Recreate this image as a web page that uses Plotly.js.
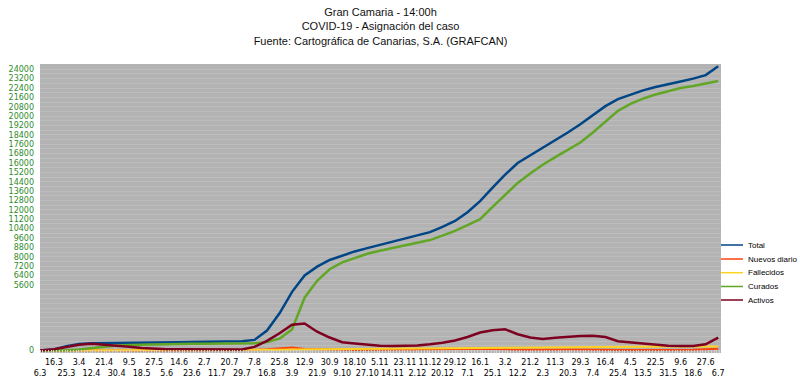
<!DOCTYPE html>
<html>
<head>
<meta charset="utf-8">
<script src="https://cdn.plot.ly/plotly-3.0.1.min.js"></script>
<style>html,body{margin:0;padding:0;background:#fff;}#chart{width:800px;height:387px;}</style>
</head>
<body>
<div id="chart"></div>
<script>
// Dates (one every 9 days, as the tick labels)
const dates = ['2020-03-06','2020-03-16','2020-03-25','2020-04-03','2020-04-12','2020-04-21','2020-04-30','2020-05-09','2020-05-18','2020-05-27','2020-06-05','2020-06-14','2020-06-23','2020-07-02','2020-07-11','2020-07-20','2020-07-29','2020-08-07','2020-08-16','2020-08-25','2020-09-03','2020-09-12','2020-09-21','2020-09-30','2020-10-09','2020-10-18','2020-10-27','2020-11-05','2020-11-14','2020-11-23','2020-12-02','2020-12-11','2020-12-20','2020-12-29','2021-01-07','2021-01-16','2021-01-25','2021-02-03','2021-02-12','2021-02-21','2021-03-02','2021-03-11','2021-03-20','2021-03-29','2021-04-07','2021-04-16','2021-04-25','2021-05-04','2021-05-13','2021-05-22','2021-05-31','2021-06-09','2021-06-18','2021-06-27','2021-07-06'];
const tickLabels = ['6.3','16.3','25.3','3.4','12.4','21.4','30.4','9.5','18.5','27.5','5.6','14.6','23.6','2.7','11.7','20.7','29.7','7.8','16.8','25.8','3.9','12.9','21.9','30.9','9.10','18.10','27.10','5.11','14.11','23.11','2.12','11.12','20.12','29.12','7.1','16.1','25.1','3.2','12.2','21.2','2.3','11.3','20.3','29.3','7.4','16.4','25.4','4.5','13.5','22.5','31.5','9.6','18.6','27.6','6.7'];

const total      = [0,80,350,550,620,640,650,660,670,680,690,700,710,720,740,760,790,900,1700,3170,5000,6400,7150,7720,8100,8450,8730,9000,9280,9540,9820,10100,10550,11050,11800,12750,13900,15000,16000,16650,17300,17900,18600,19300,20100,20850,21450,21850,22200,22480,22750,22960,23200,23500,24250];
const nuevos     = [0,10,30,40,20,10,5,3,2,1,1,1,1,2,3,5,10,40,90,160,250,120,80,60,55,40,45,35,30,35,40,45,60,80,120,150,140,90,50,40,60,70,75,70,80,60,40,40,35,30,35,40,50,90,150];
const fallecidos = [0,0,5,20,35,45,50,52,53,54,54,54,55,55,55,55,56,57,58,62,70,80,95,110,120,130,140,150,160,170,180,190,200,210,220,235,250,265,280,290,298,305,310,315,318,320,322,325,327,328,330,332,333,334,335];
const curados    = [0,0,20,80,200,330,420,470,500,520,540,550,560,570,580,590,600,620,720,1000,1800,4500,5950,6930,7520,7900,8250,8510,8740,8950,9160,9420,9800,10200,10700,11200,12250,13300,14300,15100,15850,16500,17100,17750,18600,19550,20450,21050,21500,21850,22150,22400,22570,22800,23000];
const activos    = [0,100,300,480,560,500,400,320,200,120,100,90,80,80,80,80,80,300,820,1470,2200,2300,1600,1100,700,600,480,400,380,380,420,520,650,850,1150,1530,1720,1800,1380,1100,980,1080,1170,1240,1260,1150,780,680,580,480,400,380,380,520,1100];

const yTicks = [0,5600,6400,7200,8000,8800,9600,10400,11200,12000,12800,13600,14400,15200,16000,16800,17600,18400,19200,20000,20800,21600,22400,23200,24000];

const names  = ['Total','Nuevos diario','Fallecidos','Curados','Activos'];
const series = [total, nuevos, fallecidos, curados, activos];
const colors = ['#004586','#ff420e','#ffd320','#62a626','#7e0021'];
const widths = [2.5, 2, 2, 2.5, 2.5];

const traces = series.map((s, i) => ({
  type: 'scatter', mode: 'lines', x: dates, y: s, name: names[i],
  xaxis: i === 4 ? 'x2' : 'x',
  line: {color: colors[i], width: widths[i]}, showlegend: false, hoverinfo: 'skip'
}));

const topVals = [], topText = [], botVals = [], botText = [];
dates.forEach((d, i) => {
  if (i % 2 === 1) { topVals.push(d); topText.push(tickLabels[i]); }
  else { botVals.push(d); botText.push(tickLabels[i]); }
});

const L = 40, R = 721, T = 64, B = 353;
const W = 800, H = 387;
const px2x = p => (p - L) / (R - L);
const px2y = p => (B - p) / (B - T);

const legendRows = [245, 259, 272.7, 286.5, 300];
const shapes = [], annotations = [];
names.forEach((n, i) => {
  shapes.push({type: 'line', xref: 'paper', yref: 'paper',
    x0: px2x(721), x1: px2x(743), y0: px2y(legendRows[i]), y1: px2y(legendRows[i]),
    line: {color: colors[i], width: 1.5}});
  annotations.push({xref: 'paper', yref: 'paper', x: px2x(745.5), y: px2y(legendRows[i]),
    xanchor: 'left', yanchor: 'middle', showarrow: false, text: n,
    font: {family: 'Liberation Sans, Arial, sans-serif', size: 8, color: '#000'}});
});

const xRange = ['2020-03-06', '2021-07-08'];
const layout = {
  width: W, height: H,
  margin: {l: L, r: W - R, t: T, b: H - B, pad: 0},
  paper_bgcolor: '#ffffff', plot_bgcolor: '#b3b3b3',
  title: {text: 'Gran Camaria - 14:00h<br>COVID-19 - Asignación del caso<br>Fuente: Cartográfica de Canarias, S.A. (GRAFCAN)',
    font: {family: 'Liberation Sans, Arial, sans-serif', size: 11, color: '#111'},
    x: 0.5, xanchor: 'center', xref: 'paper', y: 1 - 16 / H, yanchor: 'top', yref: 'container'},
  xaxis: {type: 'date', range: xRange, tickmode: 'array', tickvals: topVals, ticktext: topText,
    showgrid: false, zeroline: false, showline: false, ticks: '', ticklabelstandoff: 3,
    tickfont: {family: 'DejaVu Sans, Verdana, sans-serif', size: 8, color: '#000'},
    minor: {ticks: 'inside', ticklen: 3, tickcolor: '#d2d2d2', tickmode: 'linear', tick0: '2020-03-06', dtick: 2 * 86400000, showgrid: false}},
  xaxis2: {type: 'date', range: xRange, overlaying: 'x', anchor: 'y', side: 'bottom',
    tickmode: 'array', tickvals: botVals, ticktext: botText,
    showgrid: false, zeroline: false, showline: false, ticks: '', ticklabelstandoff: 14,
    tickfont: {family: 'DejaVu Sans, Verdana, sans-serif', size: 8, color: '#000'}},
  yaxis: {range: [-220, 24450], tickmode: 'array', tickvals: yTicks, ticktext: yTicks.map(String),
    showgrid: false, zeroline: false, showline: false, ticks: '', ticklabelstandoff: 5,
    tickfont: {family: 'DejaVu Sans, Verdana, sans-serif', size: 8, color: '#2e8b2e'},
    minor: {tickmode: 'linear', tick0: 0, dtick: 400, showgrid: true, gridcolor: '#bdbdbd', gridwidth: 1, ticks: ''}},
  shapes: shapes, annotations: annotations, showlegend: false
};

Plotly.newPlot('chart', traces, layout, {staticPlot: true, displayModeBar: false});
</script>
</body>
</html>
